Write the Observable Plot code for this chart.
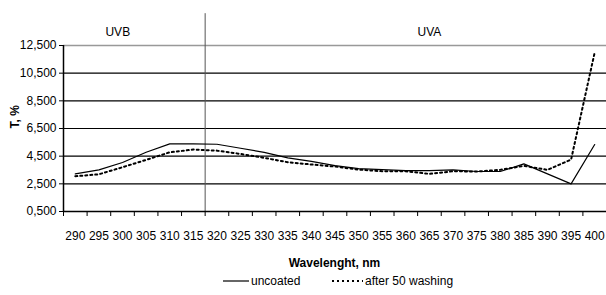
<!DOCTYPE html>
<html><head><meta charset="utf-8">
<script src="https://cdn.jsdelivr.net/npm/d3@7"></script>
<script src="https://cdn.jsdelivr.net/npm/@observablehq/plot@0.6"></script>
<style>
body{margin:0;background:#fff;font-family:"Liberation Sans",Arial,sans-serif;}
#wrap{width:606px;position:relative;}
#xtitle{width:543px;margin-left:63px;text-align:center;font-weight:bold;font-size:12px;height:18px;line-height:18px;margin-top:4px;}
#legend{position:relative;height:22px;font-size:12px;}
.item{position:absolute;top:2px;display:flex;align-items:center;gap:2px;}
svg text{font-family:"Liberation Sans",Arial,sans-serif;}
</style></head><body><div id="wrap"></div><script>
const wavelengths = [290,295,300,305,310,315,320,325,330,335,340,345,350,355,360,365,370,375,380,385,390,395,400];
const uncoated = [3.22,3.51,4.04,4.78,5.39,5.39,5.36,5.07,4.78,4.38,4.13,3.82,3.60,3.53,3.46,3.46,3.51,3.39,3.39,3.94,3.22,2.50,5.34];
const washed = [3.05,3.19,3.70,4.23,4.78,4.98,4.90,4.66,4.38,4.06,3.90,3.75,3.53,3.41,3.41,3.22,3.41,3.39,3.51,3.80,3.51,4.25,12.0];
const yTicks = [0.5,2.5,4.5,6.5,8.5,10.5,12.5];
const seriesNames = ["uncoated","after 50 washing"];
const regionNames = ["UVB","UVA"];
const regionLabelX = [299,365];
const regionBoundary = 317.5;
const regionLabelY = 13.5;
const dividerTop = 14.8;
const xTitle = "Wavelenght, nm";
const yTitle = "T, %";

const step = 5;
const xDomain = [wavelengths[0]-step/2, wavelengths[wavelengths.length-1]+step/2];
const boundaries = d3.range(wavelengths.length+1).map(i => xDomain[0] + i*step);
const rowsU = wavelengths.map((w,i)=>({w, v: uncoated[i]}));
const rowsW = wavelengths.map((w,i)=>({w, v: washed[i]}));
const fmt = d => d.toFixed(3).replace(".", ",");

const chart = Plot.plot({
  width: 606, height: 250,
  marginLeft: 63, marginRight: 0, marginTop: 45, marginBottom: 39,
  style: {fontSize: "12px", background: "#fff"},
  x: {domain: xDomain},
  y: {domain: [0.5, 12.5]},
  marks: [
    Plot.ruleY(yTicks.filter(d=>d>0.5 && d<12.5), {stroke: "#000", strokeWidth: 1.2}),
    Plot.ruleY([12.5], {stroke: "#999", strokeWidth: 1.5}),
    Plot.ruleX([regionBoundary], {y1: 0.5, y2: dividerTop, stroke: "#555", strokeWidth: 1}),
    Plot.text(regionNames, {x: (d,i)=>regionLabelX[i], y: regionLabelY, text: d=>d, fontSize: 12, fill: "#000"}),
    Plot.axisY({ticks: yTicks, tickFormat: fmt, tickSize: 4, tickPadding: 3, label: null, stroke: "#000", color: "#000"}),
    Plot.text([yTitle], {frameAnchor: "left", rotate: -90, dx: -48, text: d=>d, fontWeight: "bold", fontSize: 12, fill: "#000"}),
    Plot.axisX({ticks: boundaries, tickFormat: () => "", tickSize: 5, label: null, stroke: "#000"}),
    Plot.axisX({ticks: wavelengths, tickFormat: d=>String(d), tickSize: 0, tickPadding: 20, label: null, color: "#000"}),
    Plot.ruleY([0.5], {stroke: "#000", strokeWidth: 1.5}),
    Plot.ruleX([xDomain[0]], {y1: 0.5, y2: 12.5, stroke: "#000", strokeWidth: 1.5}),
    Plot.line(rowsU, {x: "w", y: "v", stroke: "#000", strokeWidth: 1.2}),
    Plot.line(rowsW, {x: "w", y: "v", stroke: "#000", strokeWidth: 2, strokeDasharray: "2,3"})
  ]
});
const wrap = document.getElementById("wrap");
wrap.appendChild(chart);
const t = document.createElement("div"); t.id = "xtitle"; t.textContent = xTitle; wrap.appendChild(t);
const lg = document.createElement("div"); lg.id = "legend";
const lefts = [223, 332];
seriesNames.forEach((n,i)=>{
  const it = document.createElement("div"); it.className = "item"; it.style.left = lefts[i]+"px";
  const w = i ? 31 : 26;
  const dash = i ? 'stroke-width="2" stroke-dasharray="2,3"' : 'stroke-width="1.2"';
  it.innerHTML = `<svg width="${w}" height="8"><line x1="0" x2="${w}" y1="4" y2="4" stroke="#000" ${dash}/></svg><span>${n}</span>`;
  lg.appendChild(it);
});
wrap.appendChild(lg);
</script></body></html>
